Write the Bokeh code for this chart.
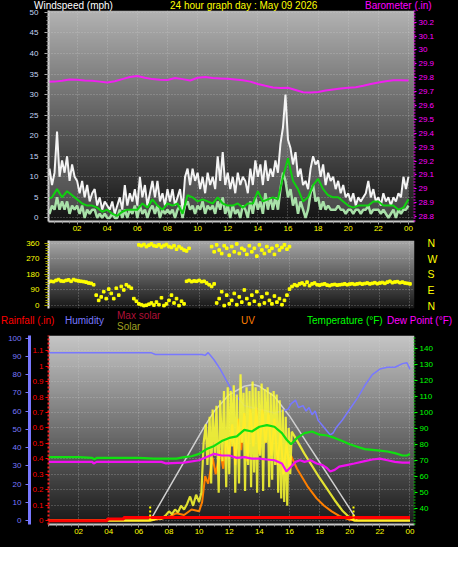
import numpy as np
from bokeh.plotting import figure
from bokeh.models import Range1d, LinearAxis, FixedTicker, NumeralTickFormatter, Div
from bokeh.layouts import column
from bokeh.embed import file_html
from bokeh.resources import INLINE

FONT = "Liberation Sans"

# ---------------- data ----------------
HOUR_TICKS = [2, 4, 6, 8, 10, 12, 14, 16, 18, 20, 22, 24]
HOUR_LABELS = ["02", "04", "06", "08", "10", "12", "14", "16", "18", "20", "22", "00"]
WIND_TICKS = [0, 5, 10, 15, 20, 25, 30, 35, 40, 45, 50]
BARO_TICKS = [28.8, 28.9, 29.0, 29.1, 29.2, 29.3, 29.4, 29.5, 29.6, 29.7, 29.8, 29.9, 30.0, 30.1, 30.2]
DIR_TICKS = [0, 90, 180, 270, 360]
DIR_LETTERS = ["N", "E", "S", "W", "N"]
RAIN_TICKS = [0, 0.1, 0.2, 0.3, 0.4, 0.5, 0.6, 0.7, 0.8, 0.9, 1.0, 1.1]
HUM_TICKS = [0, 10, 20, 30, 40, 50, 60, 70, 80, 90, 100]
TEMP_TICKS = [40, 50, 60, 70, 80, 90, 100, 110, 120, 130, 140]

# wind gust (mph), every 10 minutes 00:00 .. 24:00
wind_gust = [9, 12, 8, 11, 21, 10, 14,
             11, 15, 9, 13, 10, 9,
             6, 9, 5, 8, 4, 6,
             7, 3, 5, 2, 4, 3,
             2, 4, 1, 3, 5, 2,
             8, 3, 6, 4, 7, 3,
             10, 5, 8, 3, 6, 9,
             5, 9, 4, 6, 3, 7,
             4, 7, 3, 5, 7, 2,
             10, 12, 8, 12, 9, 11,
             7, 10, 6, 11, 8, 10,
             7, 15, 9, 16, 8, 11,
             7, 10, 6, 11, 8, 10,
             9, 6, 12, 8, 14, 10,
             13, 8, 14, 9, 12, 10,
             14, 11, 18, 22, 30, 19,
             17, 13, 16, 10, 12, 8,
             9, 7, 12, 15, 13, 14,
             10, 13, 8, 11, 9, 10,
             7, 9, 6, 8, 5, 6,
             4, 6, 3, 5, 4, 5,
             6, 9, 5, 7, 4, 5,
             3, 6, 4, 5, 3, 5,
             4, 6, 5, 10, 7, 10]
# wind speed (mph), every 10 minutes
wind_speed = [3, 1, 3, 2, 5, 2, 4,
              2, 4, 1, 3, 2, 3,
              1, 3, 0, 2, 1, 2,
              2, 0, 1, 0, 1, 0,
              0, 1, 0, 0, 2, 0,
              2, 0, 2, 1, 3, 0,
              3, 1, 2, 0, 2, 3,
              1, 3, 0, 2, 1, 2,
              1, 2, 0, 2, 3, 0,
              3, 4, 2, 3, 1, 3,
              2, 4, 1, 3, 2, 3,
              1, 4, 2, 5, 1, 3,
              0, 3, 1, 2, 0, 3,
              2, 0, 4, 1, 5, 2,
              4, 1, 6, 2, 5, 2,
              5, 2, 7, 11, 9, 5,
              7, 3, 5, 1, 4, 2,
              0, 2, 6, 8, 4, 5,
              2, 4, 2, 3, 2, 2,
              2, 3, 2, 2, 1, 2,
              2, 1, 2, 2, 1, 2,
              2, 3, 1, 2, 2, 2,
              1, 2, 1, 0, 1, 2,
              0, 2, 1, 2, 2, 3]
# 10-minute average wind (mph), every 20 minutes
wind_avg = [4.5, 5, 7, 5, 6.5, 5.5,
            4.5, 3.5, 3, 3, 2.5, 1.5,
            2, 1, 0.5, 1.5, 2, 2,
            2, 3.5, 2.5, 4.5, 3, 2,
            3.5, 3, 3.5, 1, 5.5, 5,
            4, 4.5, 4, 3.5, 5, 3.5,
            3, 3, 3.5, 2.5, 3.5, 3.5,
            6.5, 4, 4.5, 5, 4.5, 10,
            14.5, 9, 7, 4, 5, 8,
            9.5, 7, 5.5, 5, 5, 4,
            3, 2.5, 3, 3, 3, 4,
            4, 3, 3, 3, 2, 2.5,
            4.5]
# barometer (in), every 30 minutes
baro = [29.770, 29.772, 29.778, 29.788, 29.785, 29.780, 29.778, 29.772, 29.766, 29.775,
        29.790, 29.805, 29.812, 29.800, 29.790, 29.786, 29.784, 29.798, 29.790, 29.780,
        29.800, 29.806, 29.798, 29.795, 29.792, 29.788, 29.782, 29.772, 29.755, 29.742,
        29.730, 29.726, 29.728, 29.712, 29.695, 29.694, 29.698, 29.708, 29.716, 29.722,
        29.728, 29.731, 29.742, 29.755, 29.766, 29.774, 29.782, 29.781, 29.780]
# wind direction (deg), every 10 minutes
wind_dir = [135, 140, 138, 145, 150, 142, 140,
            145, 148, 140, 150, 145, 142,
            140, 138, 135, 130, 128, 120,
            60, 30, 50, 80, 40, 95,
            70, 40, 100, 60, 110, 90,
            120, 110, 100, 40, 25, 10,
            5, 0, 2, 8, 15, 3,
            20, 5, 45, 0, 10, 30,
            60, 15, 40, 0, 25, 10,
            140, 145, 138, 142, 140, 145,
            138, 140, 130, 120, 110, 125,
            15, 40, 80, 0, 60, 10,
            30, 70, 5, 50, 20, 90,
            40, 10, 60, 25, 80, 5,
            50, 15, 70, 30, 10, 55,
            20, 40, 5, 30, 60, 95,
            110, 120, 115, 125, 130, 120,
            135, 115, 125, 130, 120, 118,
            122, 125, 118, 115, 120, 122,
            118, 120, 122, 125, 120, 124,
            126, 122, 125, 128, 124, 127,
            130, 125, 128, 132, 126, 130,
            133, 128, 135, 140, 132, 136,
            138, 132, 135, 130, 128, 125]
NA = float("nan")
# second (northerly) direction cluster, every 10 minutes 06:00 .. 16:00
wind_dir_alt = [350, 345, 352, 340, 348, 355, 345,
                342, 350, 338, 346, 352, 340,
                335, 345, 325, 340, 330, 320,
                315, 330, NA, NA, NA, NA,
                NA, NA, NA, NA, 340, 310,
                350, 320, 300, 345, 330, 290,
                340, 310, 355, 300, 330, 320,
                295, 345, 310, 330, 285, 350,
                320, 300, 340, 315, 330, 295,
                345, 320, 335, 350, 325, 340]

# bottom panel
hum_t = [0, 6.8, 7.1, 10.2, 10.4, 10.6, 10.8, 11.0, 11.4, 11.8, 12.2, 12.6, 13.0, 13.5,
         14.0, 14.5, 15.0, 15.5, 15.9, 16.1, 16.4, 16.6, 16.9, 17.1, 17.3, 17.5, 17.7, 17.9,
         18.2, 18.5, 18.7, 18.9, 19.1, 19.5, 20.0, 20.5, 21.0, 21.5, 22.0, 22.5, 23.0, 23.5, 23.8, 24.0]
hum_v = [92, 92, 91, 91, 90.5, 92, 90, 88, 83, 77, 71, 67, 63, 62,
         61, 60, 59, 60, 61, 64, 66, 62, 63, 60, 62, 58, 60, 55,
         52, 49, 47, 48, 51, 55, 61, 67, 74, 80, 83, 84, 84, 86, 86.5, 83]
temp_t = [0, 1, 2, 2.9, 3.05, 3.2, 4, 5, 6, 7, 8, 8.5, 9, 9.5, 10, 10.5, 11, 11.5,
          12, 12.5, 13, 13.5, 14, 14.5, 15, 15.5, 15.8, 16.1, 16.5, 17.0, 17.5, 18.0,
          18.5, 19.0, 19.5, 20.0, 20.5, 21, 21.5, 22, 22.5, 23, 23.5, 23.8, 24]
temp_v = [72, 72, 72, 71.5, 70.5, 71.5, 71.5, 71.5, 71.5, 71, 71, 71, 72, 72.5, 74, 77, 79, 82,
          84, 85, 89, 88, 91, 92, 91, 87, 83, 80, 84, 87, 88, 86,
          85.5, 84, 82, 80, 78.5, 77, 76.5, 76, 75.5, 74.5, 73, 73, 74]
dew_t = [0, 2.9, 3.0, 3.2, 7.5, 7.8, 9, 10, 10.5, 11, 11.5, 12, 12.5, 13, 13.5, 14, 14.5, 15,
         15.5, 15.8, 16.1, 16.4, 16.7, 17.0, 17.4, 17.8, 18.2, 18.5, 18.7, 19.0, 19.3, 19.8,
         20.3, 21, 21.5, 22, 22.5, 23, 23.5, 24]
dew_v = [69, 69, 68, 69, 69, 68, 68.5, 70, 72, 74, 73, 73, 71.5, 72, 71, 71, 70.5, 70,
         68, 63, 66, 69, 70, 69, 70, 68, 67, 65, 63, 64, 66, 67,
         68, 69.5, 70.5, 71, 70, 69, 68.5, 68.5]
solar_t = [0, 6.75, 7.0, 7.3, 7.5, 7.8, 8.0, 8.2, 8.4, 8.6, 8.8, 9.0, 9.2, 9.4, 9.6, 9.8,
           10.0, 10.15, 10.3, 10.45, 10.55, 10.7, 10.8, 10.9, 11.05, 11.15, 11.3, 11.4, 11.55,
           11.65, 11.8, 11.9, 12.0, 12.1, 12.2, 12.3, 12.4, 12.5, 12.65, 12.75, 12.85, 12.95,
           13.05, 13.15, 13.25, 13.35, 13.45, 13.55, 13.65, 13.75, 13.85, 13.95,
           14.05, 14.15, 14.25, 14.35, 14.45, 14.55, 14.65, 14.75, 14.85, 14.95,
           15.05, 15.15, 15.25, 15.35, 15.45, 15.55, 15.65, 15.75, 15.85, 15.95,
           16.05, 16.15, 16.3, 17.0, 18.0, 19.0, 19.5, 20.0, 20.3, 24.0]
solar_v = [0, 0, 5, 15, 10, 30, 50, 35, 60, 45, 80, 60, 90, 130, 80, 140,
           100, 150, 420, 520, 300, 560, 200, 600, 350, 620, 150, 650, 320,
           700, 180, 720, 250, 700, 400, 730, 150, 680, 200, 790, 420, 690,
           160, 720, 300, 700, 180, 750, 260, 720, 150, 700,
           350, 740, 160, 710, 420, 720, 180, 690, 220, 700,
           300, 680, 150, 650, 120, 600, 100, 560, 80, 500,
           250, 480, 460, 360, 230, 110, 55, 15, 0, 0]
maxsolar_t = [6.75, 10.3, 11.0, 12.0, 13.0, 13.6, 14.0, 15.0, 16.0, 17.0, 18.0, 19.0, 20.0, 20.5]
maxsolar_v = [0, 500, 590, 680, 725, 735, 725, 670, 565, 440, 315, 190, 65, 0]
uv_t = [0, 6.6, 7.5, 8.0, 8.5, 9.0, 9.5, 10.0, 10.2, 10.4, 10.6, 10.9, 11.1, 11.4, 11.6, 11.8,
        12.0, 12.2, 12.4, 12.6, 12.8, 13.0, 13.2, 13.4, 13.6, 13.8, 14.0, 14.2, 14.4, 14.6,
        14.8, 15.0, 15.2, 15.4, 15.6, 15.8, 16.0, 16.1, 16.5, 17.2, 17.8, 18.3, 18.8, 19.3,
        20.0, 20.5, 24.0]
uv_v = [0, 0, 0.1, 0.2, 0.4, 0.3, 0.6, 0.5, 1.0, 2.4, 2.0, 3.4, 2.5, 3.8, 2.8, 4.5,
        3.5, 5.2, 3.0, 5.5, 3.8, 5.8, 3.2, 6.0, 4.0, 6.1, 3.6, 6.0, 4.2, 5.8,
        3.5, 5.5, 3.0, 4.8, 2.5, 4.2, 2.8, 3.5, 2.8, 1.85, 1.2, 0.8, 0.5, 0.25,
        0.05, 0, 0]
rain_t = [0, 3.9, 5.0, 24]
rain_v = [0, 0.01, 0.02, 0.02]
sun_t = [6.75, 20.25]          # sunrise / sunset markers
sun_mark = [80, 80]

# header texts
TITLE_TEXTS = ["Windspeed (mph)", "24 hour graph day : May 09 2026", "Barometer (.in)"]
TITLE_COLORS = ["#ffffff", "#ffff00", "#ff00ff"]
LEGEND_TEXTS = ["Rainfall (.in)", "Humidity", "Max solar", "Solar", "UV",
                "Temperature (°F)", "Dew Point (°F)"]
LEGEND_COLORS = ["#ff0000", "#7878ff", "#b01038", "#a0a020", "#ff7f00", "#00ff00", "#ff00ff"]

t10 = np.arange(len(wind_gust)) / 6.0
t20 = np.arange(len(wind_avg)) / 3.0
t30 = np.arange(len(baro)) / 2.0
t_alt = 6.0 + np.arange(len(wind_dir_alt)) / 6.0

W = 458


# ---------------- helpers ----------------
def make_fig(h, frame, xr, yr, **kw):
    left, top, fw, fh = frame
    return figure(width=W, height=h, x_range=xr, y_range=yr,
                  output_backend="svg", toolbar_location=None,
                  min_border_left=left, min_border_right=W - left - fw,
                  min_border_top=top, min_border_bottom=h - top - fh,
                  background_fill_color="black", border_fill_color="black",
                  outline_line_color=None, **kw)


def header(h, texts, colors, xs, tops, bg="black", margin=0, overlay=False):
    spans = "".join(
        f'<span style="position:absolute;left:{x}px;top:{t}px;color:{c};white-space:nowrap;">{s}</span>'
        for s, c, x, t in zip(texts, colors, xs, tops))
    html = (f'<div style="position:relative;width:{W}px;height:{h}px;'
            f'background:{bg};font-family:\'{FONT}\';font-size:10px;line-height:10px;">{spans}</div>')
    styles = {"background-color": bg}
    if overlay:
        styles.update({"position": "relative", "z-index": "5"})
    return Div(text=html, width=W, height=h, margin=margin, styles=styles)


def add_bg(p, top, bottom, n=160):
    xr, yr = p.x_range, p.y_range
    v = np.linspace(bottom, top, n).astype(np.uint8)
    img = np.empty((n, 1), dtype=np.uint32)
    view = img.view(dtype=np.uint8).reshape((n, 1, 4))
    view[:, 0, 0] = v
    view[:, 0, 1] = v
    view[:, 0, 2] = v
    view[:, 0, 3] = 255
    r = p.image_rgba(image=[img], x=xr.start, y=yr.start,
                     dw=xr.end - xr.start, dh=yr.end - yr.start)
    r.level = "image"


def style_axis(ax, color, line_color, line_width=1, dash="solid", tick_color=None,
               tick_out=3, standoff=2, size="8px"):
    ax.major_label_text_color = color
    ax.major_label_text_font = FONT
    ax.major_label_text_font_size = size
    ax.axis_line_color = line_color
    ax.axis_line_width = line_width
    ax.axis_line_dash = dash
    ax.major_tick_line_color = tick_color
    ax.major_tick_in = 0
    ax.major_tick_out = tick_out
    ax.major_label_standoff = standoff
    ax.minor_tick_line_color = None


def style_grid(g, ticks):
    g.ticker = FixedTicker(ticks=ticks)
    g.grid_line_color = "#d8d8d8"
    g.grid_line_alpha = 0.45
    g.grid_line_dash = "1 2"


def time_axis(p):
    ax = p.xaxis[0]
    ax.ticker = FixedTicker(ticks=HOUR_TICKS, minor_ticks=[i * 0.5 for i in range(49)])
    ax.major_label_overrides = dict(zip(HOUR_TICKS, HOUR_LABELS))
    style_axis(ax, "#ffff00", "#c8c8c8", 2, tick_color="#a0a0a0", tick_out=3, standoff=1)
    ax.minor_tick_line_color = "#909090"
    ax.minor_tick_in = 0
    ax.minor_tick_out = 2


# ---------------- header row (overlaps the top border of the wind panel) ----------------
h1 = header(12, TITLE_TEXTS, TITLE_COLORS, [34, 170, 365], [0.6, 0.6, 0.6],
            bg="transparent", margin=(0, 0, -5, 0), overlay=True)

# ---------------- top panel: wind speed / barometer ----------------
F1 = (42, 3, 372, 211)
p1 = make_fig(228, F1, Range1d(0.1, 24.4), Range1d(-0.88, 50.47))
p1.extra_y_ranges = {"baro": Range1d(28.765, 30.284)}
add_bg(p1, 178, 20)
style_grid(p1.xgrid, HOUR_TICKS)
style_grid(p1.ygrid, WIND_TICKS)

p1.varea(x=t10, y1=wind_speed, y2=wind_gust, fill_color="#b8b8b8", fill_alpha=0.3)
p1.line(t10, wind_gust, line_color="#f4f4f4", line_width=2)
p1.line(t10, wind_speed, line_color="#a8e0a8", line_width=2.5)
p1.line(t20, wind_avg, line_color="#10d010", line_width=2)
p1.line(t30, baro, line_color="#f020f0", line_width=2, y_range_name="baro")

yax = p1.yaxis[0]
yax.ticker = FixedTicker(ticks=WIND_TICKS, minor_ticks=list(range(0, 51)))
style_axis(yax, "#c4d4f4", "#d0d0d0", 2, tick_color="#b0b0b0", tick_out=4, standoff=6)
yax.minor_tick_line_color = "#909090"
yax.minor_tick_in = 0
yax.minor_tick_out = 2

bax = LinearAxis(y_range_name="baro", ticker=FixedTicker(ticks=BARO_TICKS),
                 formatter=NumeralTickFormatter(format="0.[0]"))
style_axis(bax, "#ff00ff", "#ff00ff", 2, dash="1 2", tick_color="#ff00ff", tick_out=2, standoff=2)
p1.add_layout(bax, "right")
time_axis(p1)

# ---------------- middle panel: wind direction ----------------
F2 = (46, 5, 368, 68)
p2 = make_fig(76, F2, Range1d(0, 24.3), Range1d(-16.8, 375), x_axis_location=None)
add_bg(p2, 168, 22)
style_grid(p2.xgrid, HOUR_TICKS)
style_grid(p2.ygrid, DIR_TICKS)
p2.scatter(t10, wind_dir, marker="square", size=2.6, color="#ffff00")
p2.scatter(t_alt, np.array(wind_dir_alt, dtype=float), marker="square", size=2.6, color="#ffff00")

dax = p2.yaxis[0]
dax.ticker = FixedTicker(ticks=DIR_TICKS, minor_ticks=list(range(0, 361, 15)))
style_axis(dax, "#ffff00", "#e0e0e0", 2, tick_color="#c0c000", tick_out=4, standoff=5)
dax.minor_tick_line_color = "#a0a000"
dax.minor_tick_in = 0
dax.minor_tick_out = 3
nax = LinearAxis(ticker=FixedTicker(ticks=DIR_TICKS),
                 major_label_overrides=dict(zip(DIR_TICKS, DIR_LETTERS)))
style_axis(nax, "#ffff00", None, tick_color=None, tick_out=0, standoff=13, size="10.5px")
p2.add_layout(nax, "right")

# ---------------- legend row ----------------
h3 = header(22, LEGEND_TEXTS, LEGEND_COLORS,
            [1, 65, 117, 117, 241, 307, 387],
            [5, 5, 0, 11.3, 5, 5, 5])

# ---------------- bottom panel: rain / humidity / solar / uv / temp ----------------
F3 = (48, 2, 366, 189)
p3 = make_fig(214, F3, Range1d(0, 24.3), Range1d(-0.025, 1.199))
p3.extra_y_ranges = {"hum": Range1d(-2.1, 101.4), "temp": Range1d(29.8, 148.1),
                     "solar": Range1d(-21, 999), "uv": Range1d(-0.21, 9.99)}
add_bg(p3, 198, 26)
style_grid(p3.xgrid, HOUR_TICKS)
style_grid(p3.ygrid, RAIN_TICKS)

p3.line(maxsolar_t, maxsolar_v, line_color="#d0d0d0", line_width=1.5, y_range_name="solar")
p3.line(hum_t, hum_v, line_color="#7878ff", line_width=1.5, y_range_name="hum")
p3.line(uv_t, uv_v, line_color="#ff7f00", line_width=2, y_range_name="uv")
p3.line(solar_t, solar_v, line_color="#ffff30", line_width=2.2, line_alpha=0.85, y_range_name="solar")
p3.step(rain_t, rain_v, mode="after", line_color="#ff0000", line_width=3)
p3.line(temp_t, temp_v, line_color="#10e010", line_width=2.2, y_range_name="temp")
p3.line(dew_t, dew_v, line_color="#f010f0", line_width=2.2, y_range_name="temp")
p3.segment(x0=sun_t, y0=[0, 0], x1=sun_t, y1=sun_mark, line_color="#ffff00",
           line_width=2, line_dash="2 2", y_range_name="solar")

rax = p3.yaxis[0]
rax.ticker = FixedTicker(ticks=RAIN_TICKS)
rax.formatter = NumeralTickFormatter(format="0.[0]")
style_axis(rax, "#ff0000", "#ff2020", 2, dash="2 2", tick_color="#ff0000", tick_out=3, standoff=2)

hax = LinearAxis(y_range_name="hum", ticker=FixedTicker(ticks=HUM_TICKS))
style_axis(hax, "#7878ff", "#7878ff", 3, tick_color="#7878ff", tick_out=4, standoff=4)
p3.add_layout(hax, "left")

tax = LinearAxis(y_range_name="temp", ticker=FixedTicker(ticks=TEMP_TICKS))
style_axis(tax, "#00ff00", "#00d000", 2, dash="1 2", tick_color="#00ff00", tick_out=3, standoff=2)
p3.add_layout(tax, "right")
time_axis(p3)

layout = column(h1, p1, p2, h3, p3, spacing=0, styles={"background-color": "black"})
open("out.html", "w").write(file_html(layout, INLINE))
